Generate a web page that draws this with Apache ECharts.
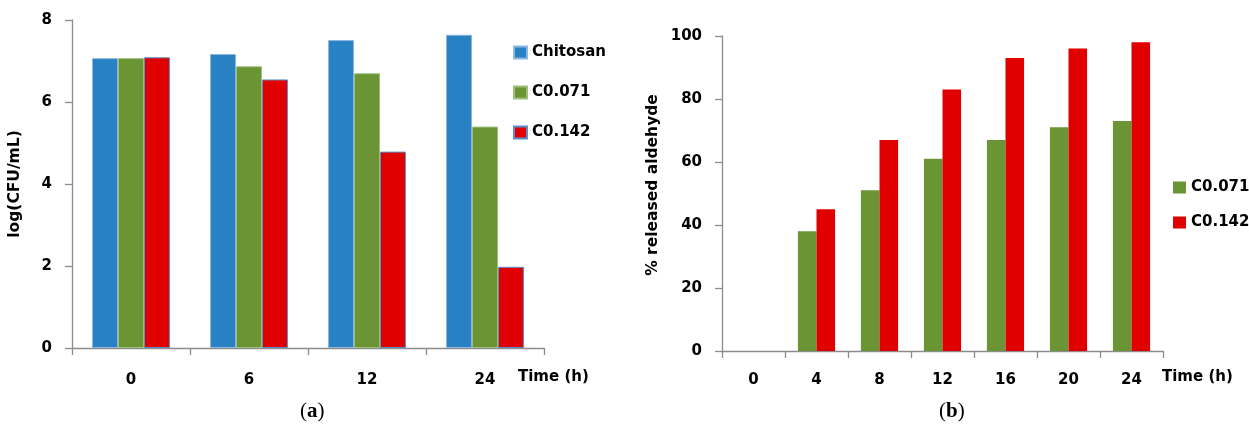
<!DOCTYPE html>
<html>
<head>
<meta charset="utf-8">
<script src="https://cdn.jsdelivr.net/npm/echarts@6/dist/echarts.min.js"></script>
<style>
html,body{margin:0;padding:0;background:#fff;}
#main{width:1249px;height:432px;}
</style>
</head>
<body>
<div id="main"></div>
<script>
// Panel (a): bacterial counts
const timesA = ['0', '6', '12', '24'];
const chitosanA = [7.07, 7.17, 7.51, 7.64];
const c071A = [7.07, 6.87, 6.70, 5.40];
const c142A = [7.09, 6.55, 4.79, 1.98];
const yTicksA = { min: 0, max: 8, interval: 2 };

// Panel (b): released aldehyde
const timesB = ['0', '4', '8', '12', '16', '20', '24'];
const c071B = [0, 38, 51, 61, 67, 71, 73];
const c142B = [0, 45, 67, 83, 93, 96, 98];
const yTicksB = { min: 0, max: 100, interval: 20 };

const BLUE = '#2781C3', GREEN = '#6B9434', RED = '#E00000';
const FONT = 'DejaVu Sans';
const axisLineStyle = { color: '#8c8c8c', width: 1.3 };
const labelStyle = { color: '#000', fontFamily: FONT, fontWeight: 'bold', fontSize: 15 };

const chart = echarts.init(document.getElementById('main'), null, { renderer: 'canvas' });
chart.setOption({
  animation: false,
  backgroundColor: '#fff',
  grid: [
    { left: 72, right: 705, top: 20, bottom: 84, containLabel: false },
    { left: 722, right: 86, top: 36, bottom: 81, containLabel: false }
  ],
  legend: [
    {
      orient: 'vertical', left: 513, top: 45, padding: 0, itemWidth: 13, itemHeight: 12, itemGap: 25,
      icon: 'rect', textStyle: Object.assign({}, labelStyle, { lineHeight: 15 }),
      data: ['Chitosan', 'C0.071', 'C0.142'], selectedMode: false
    },
    {
      orient: 'vertical', left: 1173, top: 180, padding: 0, itemWidth: 13, itemHeight: 12, itemGap: 20,
      icon: 'rect', textStyle: Object.assign({}, labelStyle, { lineHeight: 15 }),
      data: [
        { name: 'C0.071', itemStyle: { color: GREEN, borderWidth: 0 } },
        { name: 'C0.142', itemStyle: { color: RED, borderWidth: 0 } }
      ],
      selectedMode: false
    }
  ],
  xAxis: [
    {
      type: 'category', gridIndex: 0, data: timesA, boundaryGap: true,
      axisLine: { lineStyle: axisLineStyle },
      axisTick: { show: true, length: 7, lineStyle: axisLineStyle },
      axisLabel: Object.assign({ margin: 25 }, labelStyle)
    },
    {
      type: 'category', gridIndex: 1, data: timesB, boundaryGap: true,
      axisLine: { lineStyle: axisLineStyle },
      axisTick: { show: true, length: 7, lineStyle: axisLineStyle },
      axisLabel: Object.assign({ margin: 22 }, labelStyle)
    }
  ],
  yAxis: [
    {
      type: 'value', gridIndex: 0, min: yTicksA.min, max: yTicksA.max, interval: yTicksA.interval,
      axisLine: { show: true, lineStyle: axisLineStyle },
      axisTick: { show: true, length: 7, lineStyle: axisLineStyle },
      splitLine: { show: false },
      axisLabel: Object.assign({ margin: 20 }, labelStyle),
      name: 'log(CFU/mL)', nameLocation: 'middle', nameRotate: 90, nameGap: 49,
      nameTextStyle: Object.assign({}, labelStyle, { fontSize: 15.5 })
    },
    {
      type: 'value', gridIndex: 1, min: yTicksB.min, max: yTicksB.max, interval: yTicksB.interval,
      axisLine: { show: true, lineStyle: axisLineStyle },
      axisTick: { show: true, length: 7, lineStyle: axisLineStyle },
      splitLine: { show: false },
      axisLabel: Object.assign({ margin: 20 }, labelStyle),
      name: '% released aldehyde', nameLocation: 'middle', nameRotate: 90, nameGap: 61,
      nameTextStyle: Object.assign({}, labelStyle, { fontSize: 15.5, padding: [0, 0, 0, 17] })
    }
  ],
  series: [
    { name: 'Chitosan', type: 'bar', xAxisIndex: 0, yAxisIndex: 0, data: chitosanA,
      barGap: '0%', barCategoryGap: '34%',
      itemStyle: { color: BLUE, borderColor: '#8DB6E0', borderWidth: 1 } },
    { name: 'C0.071', type: 'bar', xAxisIndex: 0, yAxisIndex: 0, data: c071A,
      barGap: '0%', barCategoryGap: '34%',
      itemStyle: { color: GREEN, borderColor: '#9DBF78', borderWidth: 1 } },
    { name: 'C0.142', type: 'bar', xAxisIndex: 0, yAxisIndex: 0, data: c142A,
      barGap: '0%', barCategoryGap: '34%',
      itemStyle: { color: RED, borderColor: '#5A8FCC', borderWidth: 1 } },
    { name: 'C0.071', type: 'bar', xAxisIndex: 1, yAxisIndex: 1, data: c071B,
      barGap: '0%', barCategoryGap: '41%',
      itemStyle: { color: GREEN, borderWidth: 0 } },
    { name: 'C0.142', type: 'bar', xAxisIndex: 1, yAxisIndex: 1, data: c142B,
      barGap: '0%', barCategoryGap: '41%',
      itemStyle: { color: RED, borderWidth: 0 } }
  ],
  graphic: [
    { type: 'text', left: 518, top: 370,
      style: Object.assign({ text: 'Time (h)', fill: '#000', font: 'bold 15px "DejaVu Sans"' }) },
    { type: 'text', left: 1162, top: 370,
      style: Object.assign({ text: 'Time (h)', fill: '#000', font: 'bold 15px "DejaVu Sans"' }) },
    { type: 'text', left: 300, top: 401,
      style: { text: '{p|(}{b|a}{p|)}', rich: {
        p: { fontFamily: 'Liberation Serif', fontSize: 21, fill: '#000' },
        b: { fontFamily: 'Liberation Serif', fontSize: 21, fontWeight: 'bold', fill: '#000' } } } },
    { type: 'text', left: 939, top: 401,
      style: { text: '{p|(}{b|b}{p|)}', rich: {
        p: { fontFamily: 'Liberation Serif', fontSize: 21, fill: '#000' },
        b: { fontFamily: 'Liberation Serif', fontSize: 21, fontWeight: 'bold', fill: '#000' } } } }
  ]
});
</script>
</body>
</html>
